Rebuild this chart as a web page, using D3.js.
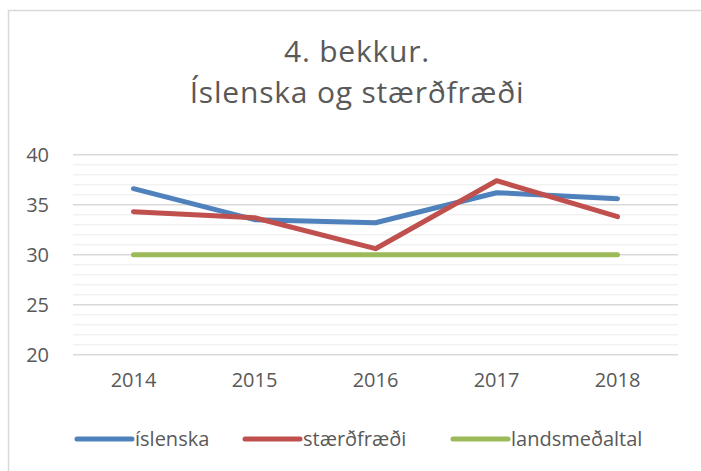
<!DOCTYPE HTML>
<html lang="is">
  <head>
    <meta charset="UTF-8">
    <title>4. bekkur</title>
    <style>
body { margin: 0; background: #fff; }
text {
  font-family: 'Open Sans', sans-serif;
  fill: #595959;
}
    </style>
  </head>
  <body>
    <div id="vis"></div>
    <script src="https://d3js.org/d3.v7.min.js"></script>
    <script>

const years = ["2014", "2015", "2016", "2017", "2018"];
const islenska = [36.6, 33.5, 33.2, 36.2, 35.6];
const staerdfraedi = [34.3, 33.7, 30.6, 37.4, 33.8];
const landsmedaltal = [30, 30, 30, 30, 30];
const seriesNames = ["íslenska", "stærðfræði", "landsmeðaltal"];
const yTicks = [20, 25, 30, 35, 40];

const width = 701;
const height = 471;
const colors = ["#4f81bd", "#c0504d", "#9bbb59"];

let svg = d3.select("#vis").append("svg")
    .attr("width", width)
    .attr("height", height);

// chart border
svg.append("rect")
    .attr("x", 8.5)
    .attr("y", 10.5)
    .attr("width", 720)
    .attr("height", 480)
    .style("fill", "none")
    .style("stroke", "#d9d9d9")
    .style("stroke-width", 1.5);

let title = svg.append("text")
    .attr("text-anchor", "middle")
    .style("font-size", "30px")
    .style("letter-spacing", "0.8px");
title.append("tspan").attr("x", 357).attr("y", 62).text("4. bekkur.");
title.append("tspan").attr("x", 357).attr("y", 103).text("Íslenska og stærðfræði");

let xScale = d3.scaleBand()
    .domain(years)
    .range([73, 678]);

let yScale = d3.scaleLinear()
    .domain([20, 40])
    .range([354.7, 154.7]);

// gridlines, every unit, darker every 5
let grid = svg.append("g");
grid.selectAll("line")
  .data(d3.range(20, 41))
  .enter().append("line")
    .attr("x1", 73)
    .attr("x2", 678)
    .attr("y1", function(d){ return yScale(d); })
    .attr("y2", function(d){ return yScale(d); })
    .style("stroke", function(d){ return d % 5 === 0 ? "#d9d9d9" : "#f2f2f2"; })
    .style("stroke-width", 1.5);

let yAxis = svg.append("g")
    .attr("transform", "translate(57,0)")
    .call(d3.axisLeft(yScale).tickValues(yTicks).tickSize(0).tickPadding(8));
yAxis.select(".domain").remove();
yAxis.selectAll("text")
    .style("font-size", "20px")
    .style("font-family", "'Open Sans', sans-serif")
    .attr("fill", "#595959");

let xAxis = svg.append("g")
    .attr("transform", "translate(0,373)")
    .call(d3.axisBottom(xScale).tickSize(0).tickPadding(0));
xAxis.select(".domain").remove();
xAxis.selectAll("text")
    .attr("dy", "0.71em")
    .style("font-size", "20px")
    .style("font-family", "'Open Sans', sans-serif")
    .attr("fill", "#595959");

const data = [islenska, staerdfraedi, landsmedaltal];

let line = d3.line()
    .x(function(d, i){ return xScale(years[i]) + xScale.bandwidth() / 2; })
    .y(function(d){ return yScale(d); });

// green first so islenska and stærðfræði sit on top
[2, 0, 1].forEach(function(k){
  svg.append("path")
    .datum(data[k])
    .attr("d", line)
    .style("fill", "none")
    .style("stroke", colors[k])
    .style("stroke-width", 5)
    .style("stroke-linecap", "round")
    .style("stroke-linejoin", "round");
});

// legend
const legendX = [77, 245, 453];
let legend = svg.selectAll(".legend")
  .data(seriesNames)
  .enter().append("g")
    .attr("class", "legend")
    .attr("transform", function(d, i){ return "translate(" + legendX[i] + ",439)"; });

legend.append("line")
    .attr("x1", 0)
    .attr("x2", 55)
    .style("stroke", function(d, i){ return colors[i]; })
    .style("stroke-width", 5)
    .style("stroke-linecap", "round");

legend.append("text")
    .attr("x", 58)
    .attr("y", 7)
    .style("font-size", "20px")
    .text(function(d){ return d; });

    </script>
  </body>
</html>
